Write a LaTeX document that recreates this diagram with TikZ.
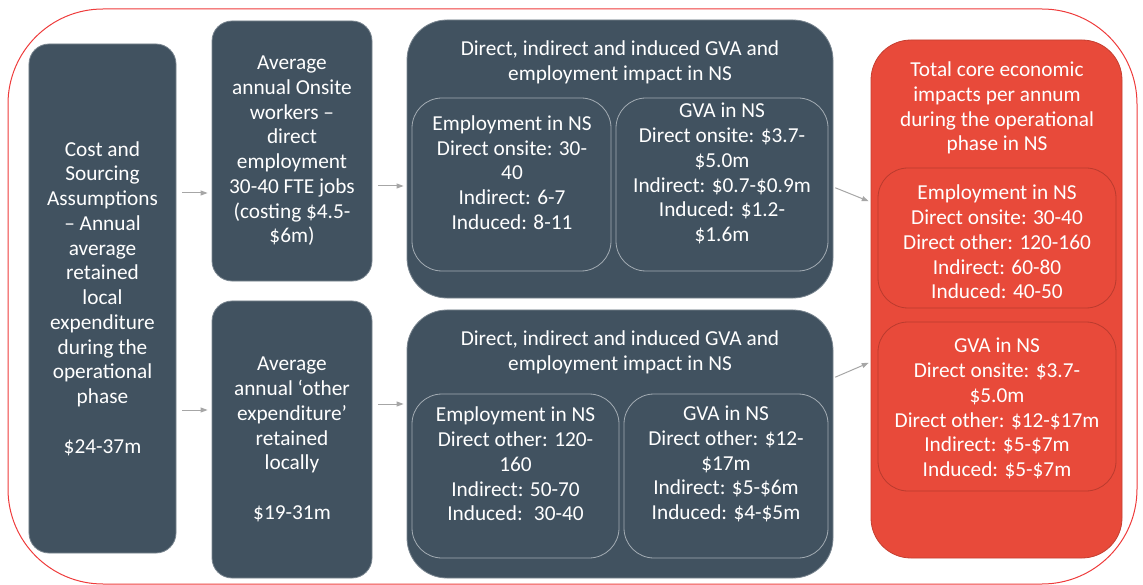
\documentclass[tikz,border=0pt]{standalone}
\usepackage{fontspec}
\setmainfont{Carlito}
\usetikzlibrary{arrows.meta}

\begin{document}
\begin{tikzpicture}[x=1bp, y=-1bp,
  every node/.style={font=\fontsize{21.3bp}{24.75bp}\selectfont, align=center, inner sep=0pt},
  slatebox/.style={rounded corners=20bp, fill=slate, draw=slate!70!white, line width=0.8bp, text=white},
  bigbox/.style={slatebox, rounded corners=40bp},
  innerbox/.style={rounded corners=30bp, draw=innerline, line width=0.8bp},
  redbox/.style={rounded corners=40bp, fill=corered, draw=corered!85!black, line width=0.8bp},
  redinner/.style={rounded corners=30bp, draw=corered!80!black, line width=0.8bp},
  txt/.style={text=white},
  flow/.style={draw=flowgray, line width=1bp, -{Triangle[length=7bp,width=5bp]}}]

  % --- Farben ---
  \definecolor{slate}{HTML}{415260}     % dunkle Kästen
  \definecolor{corered}{HTML}{E84A3A}   % Ergebniskasten
  \definecolor{innerline}{HTML}{A3ACB3} % innere Rahmen
  \definecolor{flowgray}{HTML}{A6A6A6}  % Pfeile
  \definecolor{framered}{HTML}{EE3B3B}  % äußerer Rahmen

  \useasboundingbox (0,0) rectangle (1143,585);

  % --- äußerer Rahmen ---
  \draw[framered, line width=1bp, rounded corners=95bp] (8,9) rectangle (1137,584);

  % --- Spalte 1: Annahmen ---
  \node[slatebox, minimum width=147bp, minimum height=509bp] (cost) at (102.5,298.5)
    {Cost and\\Sourcing\\Assumptions\\– Annual\\average\\retained\\local\\expenditure\\during the\\operational\\phase\\[24.75bp]\$24-37m};

  % --- Spalte 2: Ausgaben ---
  \node[slatebox, minimum width=160bp, minimum height=260bp] (onsite) at (292,151)
    {Average\\annual Onsite\\workers –\\direct\\employment\\30-40 FTE jobs\\(costing \$4.5-\\\$6m)};
  \node[slatebox, minimum width=160bp, minimum height=277bp] (other) at (292,439.5)
    {Average\\annual ‘other\\expenditure’\\retained\\locally\\[24.75bp]\$19-31m};

  % --- Spalte 3: oben (Onsite) ---
  \node[bigbox, minimum width=426bp, minimum height=278bp] (gvatop) at (620,159) {};
  \node[txt] (gvatopT) at (620,62.5) {Direct, indirect and induced GVA and\\employment impact in NS};
  \node[innerbox, minimum width=199bp, minimum height=173bp] (empA) at (511.5,184.5) {};
  \node[txt] (empAT) at (512,172.5) {Employment in NS\\Direct onsite: 30-\\40\\Indirect: 6-7\\Induced: 8-11};
  \node[innerbox, minimum width=212bp, minimum height=173bp] (gvaA) at (722,184.5) {};
  \node[txt] (gvaAT) at (722,173.5) {GVA in NS\\Direct onsite: \$3.7-\\\$5.0m\\Indirect: \$0.7-\$0.9m\\Induced: \$1.2-\\\$1.6m};

  % --- Spalte 3: unten (sonstige Ausgaben) ---
  \node[bigbox, minimum width=426bp, minimum height=268bp] (gvabot) at (620,444) {};
  \node[txt] (gvabotT) at (620,352.5) {Direct, indirect and induced GVA and\\employment impact in NS};
  \node[innerbox, minimum width=207bp, minimum height=164bp] (empB) at (515.5,476) {};
  \node[txt] (empBT) at (515.5,464) {Employment in NS\\Direct other: 120-\\160\\Indirect: 50-70\\Induced:~ 30-40};
  \node[innerbox, minimum width=204bp, minimum height=164bp] (gvaB) at (726,476) {};
  \node[txt] (gvaBT) at (726,464) {GVA in NS\\Direct other: \$12-\\\$17m\\Indirect: \$5-\$6m\\Induced: \$4-\$5m};

  % --- Spalte 4: Gesamtwirkung ---
  \node[redbox, minimum width=251bp, minimum height=518bp] (total) at (996.5,299) {};
  \node[txt] (totalT) at (997,108) {Total core economic\\impacts per annum\\during the operational\\phase in NS};
  \node[redinner, minimum width=238bp, minimum height=140bp] (totEmp) at (997,238) {};
  \node[txt] (totEmpT) at (997,242) {Employment in NS\\Direct onsite: 30-40\\Direct other: 120-160\\Indirect: 60-80\\Induced: 40-50};
  \node[redinner, minimum width=238bp, minimum height=169bp] (totGva) at (997,406.5) {};
  \node[txt] (totGvaT) at (997,408.5) {GVA in NS\\Direct onsite: \$3.7-\\\$5.0m\\Direct other: \$12-\$17m\\Indirect: \$5-\$7m\\Induced: \$5-\$7m};

  % --- Pfeile ---
  \draw[flow, shorten <=6bp, shorten >=4bp] (cost.east |- 0,193) -- (onsite.west |- 0,193);
  \draw[flow, shorten <=6bp, shorten >=4bp] (cost.east |- 0,410) -- (other.west |- 0,410);
  \draw[flow, shorten <=6bp, shorten >=3bp] (onsite.east |- 0,186) -- (gvatop.west |- 0,186);
  \draw[flow, shorten <=6bp, shorten >=3bp] (other.east |- 0,404) -- (gvabot.west |- 0,404);
  \draw[flow, shorten <=2bp, shorten >=2bp] (gvatop.east |- 0,187) -- (total.west |- 0,202);
  \draw[flow, shorten <=2bp, shorten >=2bp] (gvabot.east |- 0,378) -- (total.west |- 0,362);

\end{tikzpicture}
\end{document}
